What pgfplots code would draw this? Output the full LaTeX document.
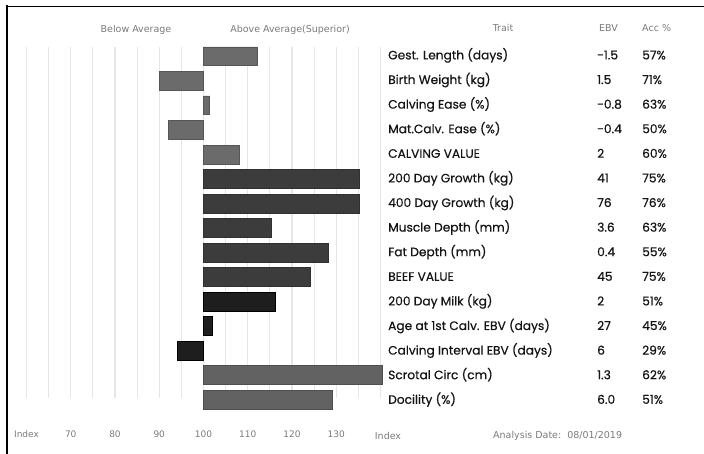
\documentclass[border=0pt]{standalone}
\usepackage{pgfplots}
\pgfplotsset{compat=1.18}
\usepackage{fontspec}
\setmainfont{Poppins}
\newfontfamily\trait[FakeBold=0.5]{Poppins}
\newfontfamily\lab{DejaVu Sans}
\definecolor{calv}{HTML}{6B6B6B}
\definecolor{grow}{HTML}{3C3C3C}
\definecolor{milk}{HTML}{1E1E1E}
\definecolor{other}{HTML}{626262}
\definecolor{lbl}{HTML}{7A7A7A}
\definecolor{gridc}{HTML}{E6E6E6}
\definecolor{txt}{HTML}{141414}
\begin{document}
\begin{tikzpicture}
\useasboundingbox (0,0) rectangle (704pt,-454pt);
\begin{axis}[at={(26.5pt,-398pt)},anchor=south west,scale only axis,width=354pt,height=351pt,
  xmin=-40,xmax=40,ymin=0.62,ymax=14.93,y dir=reverse,clip=false,
  axis line style={draw=none},major tick length=0pt,ytick=\empty,
  xtick={-40,-35,...,40},xticklabels={Index,,70,,80,,90,,100,,110,,120,,130,,},
  xmajorgrids,grid style={gridc,line width=1.2pt},
  xticklabel style={font=\lab\fontsize{9}{10}\selectfont,text=lbl,yshift=-29pt},
  /pgf/number format/assume math mode=true,
  x filter/.expression={x-100}]
% index values, bars start at 100
\addplot[xbar,bar shift=0pt,bar width=18.8pt,fill=calv,draw=calv!80!black,line width=0.6pt]
  coordinates {(112.1,1) (90.1,2) (101.3,3) (92.0,4) (108.2,5)};
\addplot[xbar,bar shift=0pt,bar width=18.8pt,fill=grow,draw=grow!80!black,line width=0.6pt]
  coordinates {(135.3,6) (135.3,7) (115.3,8) (128.3,9) (124.2,10)};
\addplot[xbar,bar shift=0pt,bar width=18.8pt,fill=milk,draw=black,line width=0.6pt]
  coordinates {(116.3,11) (102.0,12) (94.1,13)};
\addplot[xbar,bar shift=0pt,bar width=18.8pt,fill=other,draw=other!80!black,line width=0.6pt]
  coordinates {(140.5,14) (129.2,15)};
\end{axis}
% frame
\draw[line width=2.5pt] (7pt,-454pt) -- (7pt,-5.5pt);
\draw[line width=1.5pt] (5.75pt,-6.3pt) -- (704pt,-6.3pt);
% headers
\begin{scope}[every node/.style={font=\lab\fontsize{9.5}{11}\selectfont,text=lbl,inner sep=0pt}]
\node at (136pt,-30pt) {Below Average};
\node at (290pt,-30pt) {Above Average(Superior)};
\node at (503pt,-28pt) {Trait};
\node[anchor=west] at (599pt,-28pt) {EBV};
\node[anchor=west] at (642pt,-28pt) {Acc \%};
\node at (388pt,-436pt) {Index};
\node[anchor=west] at (493pt,-436pt) {Analysis Date:~~08/01/2019};
\end{scope}
% trait table
\foreach \i/\t/\e/\a in {1/Gest. Length (days)/-1.5/57\%,2/Birth Weight (kg)/1.5/71\%,
  3/Calving Ease (\%)/-0.8/63\%,4/Mat.Calv. Ease (\%)/-0.4/50\%,5/CALVING VALUE/2/60\%,
  6/200 Day Growth (kg)/41/75\%,7/400 Day Growth (kg)/76/76\%,8/Muscle Depth (mm)/3.6/63\%,
  9/Fat Depth (mm)/0.4/55\%,10/BEEF VALUE/45/75\%,11/200 Day Milk (kg)/2/51\%,
  12/Age at 1st Calv. EBV (days)/27/45\%,13/Calving Interval EBV (days)/6/29\%,
  14/Scrotal Circ (cm)/1.3/62\%,15/Docility (\%)/6.0/51\%}{
  \pgfmathsetmacro\yy{55+(\i-1)*24.6}
  \begin{scope}[every node/.style={font=\trait\fontsize{12.2}{14}\selectfont,text=txt,inner sep=0pt,
      anchor=west,text height=8.8pt,text depth=0pt}]
  \node at (388pt,-\yy pt) {\t};
  \node at (597pt,-\yy pt) {\e};
  \node at (642pt,-\yy pt) {\a};
  \end{scope}
}
\end{tikzpicture}
\end{document}
